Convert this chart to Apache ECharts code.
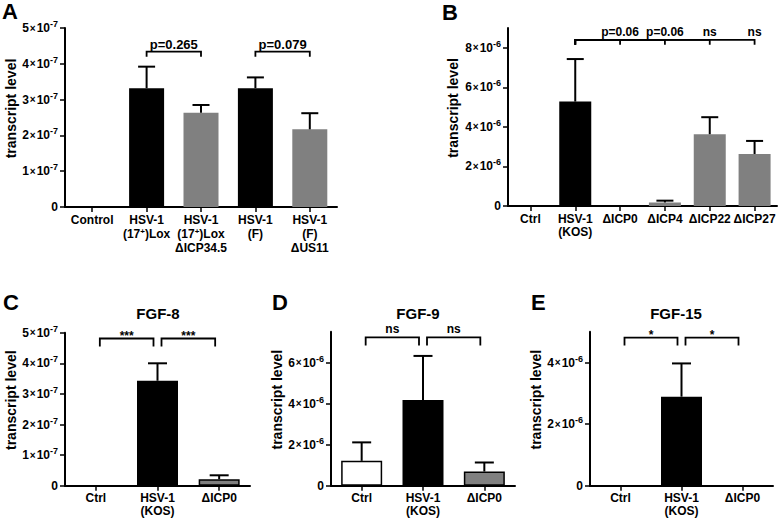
<!DOCTYPE html>
<html><head><meta charset="utf-8">
<script src="https://cdn.jsdelivr.net/npm/echarts@6/dist/echarts.min.js"></script>
<style>html,body{margin:0;padding:0;background:#fff}#c{width:778px;height:519px}</style>
</head><body><div id="c"></div>
<script>
// ---------- DATA ----------
// Panel A
const catsA = ['Control', 'HSV-1\n(17+)Lox', 'HSV-1\n(17+)Lox\nΔICP34.5', 'HSV-1\n(F)', 'HSV-1\n(F)\nΔUS11'];
const meanA = [0, 3.32e-7, 2.63e-7, 3.32e-7, 2.17e-7];
const upperA = [0, 3.92e-7, 2.85e-7, 3.62e-7, 2.62e-7];
const kindA = ['ctrl', 'wt', 'mut', 'wt', 'mut'];
const ticksA = [0, 1e-7, 2e-7, 3e-7, 4e-7, 5e-7];
const compA = [[1, 2, 'p=0.265'], [3, 4, 'p=0.079']];
// Panel B
const catsB = ['Ctrl', 'HSV-1\n(KOS)', 'ΔICP0', 'ΔICP4', 'ΔICP22', 'ΔICP27'];
const meanB = [0, 5.28e-6, 0, 0.18e-6, 3.63e-6, 2.63e-6];
const upperB = [0, 7.43e-6, 0, 0.27e-6, 4.49e-6, 3.29e-6];
const kindB = ['ctrl', 'wt', 'mut', 'mut', 'mut', 'mut'];
const ticksB = [0, 2e-6, 4e-6, 6e-6, 8e-6];
const compB = [[1, 2, 'p=0.06'], [1, 3, 'p=0.06'], [1, 4, 'ns'], [1, 5, 'ns']];
// Panels C, D, E share categories
const catsCDE = ['Ctrl', 'HSV-1\n(KOS)', 'ΔICP0'];
const kindCDE = ['ctrl', 'wt', 'mut'];
const meanC = [0, 3.43e-7, 0.21e-7];
const upperC = [0, 4.00e-7, 0.34e-7];
const ticksC = [0, 1e-7, 2e-7, 3e-7, 4e-7, 5e-7];
const compC = [[0, 1, '***'], [1, 2, '***']];
const meanD = [1.21e-6, 4.17e-6, 0.69e-6];
const upperD = [2.11e-6, 6.32e-6, 1.13e-6];
const ticksD = [0, 2e-6, 4e-6, 6e-6];
const compD = [[0, 1, 'ns'], [1, 2, 'ns']];
const meanE = [0, 2.89e-6, 0];
const upperE = [0, 3.97e-6, 0];
const ticksE = [0, 2e-6, 4e-6];
const compE = [[0, 1, '*'], [1, 2, '*']];
const panelLetters = ['A', 'B', 'C', 'D', 'E'];
const panelTitles = ['', '', 'FGF-8', 'FGF-9', 'FGF-15'];
const yName = 'transcript level';

// ---------- LAYOUT / STYLE ----------
const FONT = '"Liberation Sans", Arial, sans-serif';
const panels = [
  { cats: catsA, mean: meanA, upper: upperA, kind: kindA, ticks: ticksA, comp: compA,
    grid: { left: 65, top: 28, width: 272, height: 179 }, yMax: 5e-7, barWidth: 35, border: 0,
    nameGap: 46, level: 4.34e-7, tick: 5, inset: 0, labelAtEnd: false, labelSize: 13, labelDy: -1, cap: 8.5,
    lh: 14, letter: [2, 0], title: null },
  { cats: catsB, mean: meanB, upper: upperB, kind: kindB, ticks: ticksB, comp: compB,
    grid: { left: 508, top: 28, width: 269, height: 178 }, yMax: 9e-6, barWidth: 32, border: 0,
    nameGap: 48, level: 8.4e-6, tick: 5, inset: 0, labelAtEnd: true, labelSize: 12, labelDy: -2, cap: 8.5,
    lh: 13, letter: [442, 1], title: null },
  { cats: catsCDE, mean: meanC, upper: upperC, kind: kindCDE, ticks: ticksC, comp: compC,
    grid: { left: 65, top: 332.7, width: 185, height: 153 }, yMax: 5e-7, barWidth: 41, border: 1.5,
    nameGap: 38, level: 4.81e-7, tick: 8, inset: 4, labelAtEnd: false, labelSize: 12, labelDy: 3, cap: 9.5,
    lh: 13, letter: [3, 291], title: [158, 313] },
  { cats: catsCDE, mean: meanD, upper: upperD, kind: kindCDE, ticks: ticksD, comp: compD,
    grid: { left: 331, top: 331.7, width: 184, height: 154 }, yMax: 7.5e-6, barWidth: 41, border: 1.5,
    nameGap: 45, level: 7.22e-6, tick: 8, inset: 4, labelAtEnd: false, labelSize: 12, labelDy: -2, cap: 9.5,
    lh: 13, letter: [272, 291], title: [418, 313] },
  { cats: catsCDE, mean: meanE, upper: upperE, kind: kindCDE, ticks: ticksE, comp: compE,
    grid: { left: 590, top: 331.7, width: 183, height: 154 }, yMax: 5e-6, barWidth: 41, border: 1.5,
    nameGap: 46, level: 4.81e-6, tick: 8, inset: 4, labelAtEnd: false, labelSize: 12, labelDy: 3, cap: 9.5,
    lh: 13, letter: [531, 291], title: [676, 313] }
];
const kindColor = { ctrl: '#ffffff', wt: '#000000', mut: '#808080' };

function sciLabel(v) {
  if (v === 0) return '{n|0}';
  const parts = v.toExponential(0).split('e');
  return '{n|' + parts[0] + '}{x|×}{n|10}{s|' + (+parts[1]) + '}';
}
function catLabel(s) {
  return s.replace('(17+)', '(17{s|+})');
}

const grids = [], xAxes = [], yAxes = [], series = [], graphics = [];
panels.forEach((p, k) => {
  grids.push(Object.assign({ containLabel: false, outerBoundsMode: 'none' }, p.grid));
  xAxes.push({
    type: 'category', gridIndex: k, data: p.cats,
    axisLine: { show: true, lineStyle: { color: '#000', width: 2 } },
    axisTick: { show: true, alignWithLabel: true, length: 5, lineStyle: { color: '#000', width: 1.5 } },
    axisLabel: {
      interval: 0, margin: 6, color: '#000', fontSize: 12, fontWeight: 'bold', fontFamily: FONT, lineHeight: p.lh,
      formatter: catLabel,
      rich: { s: { fontSize: 8, fontWeight: 'bold', fontFamily: FONT, color: '#000', lineHeight: 8, padding: [0, 0, 6, 0] } }
    },
    splitLine: { show: false }
  });
  yAxes.push({
    type: 'value', gridIndex: k, min: 0, max: p.yMax,
    name: yName, nameLocation: 'middle', nameGap: p.nameGap,
    nameTextStyle: { color: '#000', fontSize: 14, fontWeight: 'bold', fontFamily: FONT, padding: [0, 0, 0, 18] },
    axisLine: { show: true, lineStyle: { color: '#000', width: 2 } },
    axisTick: { show: true, length: 5, customValues: p.ticks, lineStyle: { color: '#000', width: 1.5 } },
    axisLabel: {
      show: true, margin: 7, customValues: p.ticks, formatter: sciLabel,
      fontSize: 12, fontWeight: 'bold', fontFamily: FONT, color: '#000',
      rich: {
        n: { fontSize: 12, fontWeight: 'bold', fontFamily: FONT, color: '#000' },
        x: { fontSize: 10, fontFamily: FONT, color: '#000', padding: [0, 1, 0, 1] },
        s: { fontSize: 9, fontWeight: 'bold', fontFamily: FONT, color: '#000', padding: [0, 0, 8, 0] }
      }
    },
    splitLine: { show: false }
  });
  series.push({
    type: 'bar', xAxisIndex: k, yAxisIndex: k, barWidth: p.barWidth, silent: true,
    data: p.mean.map((v, i) => ({
      value: v,
      itemStyle: { color: kindColor[p.kind[i]], borderColor: '#000', borderWidth: p.border }
    }))
  });
  series.push({
    type: 'custom', xAxisIndex: k, yAxisIndex: k, silent: true, z: 5,
    encode: { x: 0, y: 1 },
    data: p.mean.map((v, i) => [i, v, p.upper[i]]),
    renderItem(params, api) {
      const m = api.value(1), t = api.value(2);
      if (!(t > m)) return { type: 'group', children: [] };
      const p0 = api.coord([api.value(0), m]);
      const p1 = api.coord([api.value(0), t]);
      const st = { stroke: '#000', lineWidth: 2 };
      return { type: 'group', children: [
        { type: 'line', shape: { x1: p0[0], y1: p0[1], x2: p1[0], y2: p1[1] }, style: st },
        { type: 'line', shape: { x1: p1[0] - p.cap, y1: p1[1], x2: p1[0] + p.cap, y2: p1[1] }, style: st }
      ] };
    }
  });
  series.push({
    type: 'custom', xAxisIndex: k, yAxisIndex: k, silent: true, z: 6,
    encode: { x: 0, y: 2 },
    data: p.comp.map(c => [c[0], c[1], p.level]),
    renderItem(params, api) {
      const c = p.comp[params.dataIndex];
      const a = api.coord([api.value(0), api.value(2)]);
      const b = api.coord([api.value(1), api.value(2)]);
      const x1 = a[0] + p.inset, x2 = b[0] - p.inset, y = a[1];
      const lx = p.labelAtEnd ? b[0] : (x1 + x2) / 2;
      return { type: 'group', children: [
        { type: 'polyline', shape: { points: [[x1, y + p.tick], [x1, y], [x2, y], [x2, y + p.tick]] },
          style: { stroke: '#000', lineWidth: 1.8, fill: 'none' } },
        { type: 'text', x: lx, y: y + p.labelDy,
          style: { text: c[2], fill: '#000', fontSize: p.labelSize, fontWeight: 'bold', fontFamily: FONT,
                   align: 'center', verticalAlign: 'bottom', textAlign: 'center', textVerticalAlign: 'bottom' } }
      ] };
    }
  });
  graphics.push({
    type: 'text', x: p.letter[0], y: p.letter[1],
    style: { text: panelLetters[k], fill: '#000', font: 'bold 22px ' + FONT,
             align: 'left', verticalAlign: 'top', textAlign: 'left', textVerticalAlign: 'top' }
  });
  if (p.title) {
    graphics.push({
      type: 'text', x: p.title[0], y: p.title[1],
      style: { text: panelTitles[k], fill: '#000', font: 'bold 15px ' + FONT,
               align: 'center', verticalAlign: 'middle', textAlign: 'center', textVerticalAlign: 'middle' }
    });
  }
});

const chart = echarts.init(document.getElementById('c'), null, { renderer: 'svg' });
chart.setOption({
  animation: false,
  backgroundColor: '#fff',
  grid: grids, xAxis: xAxes, yAxis: yAxes, series: series, graphic: graphics,
  tooltip: { show: false }
});
</script></body></html>
